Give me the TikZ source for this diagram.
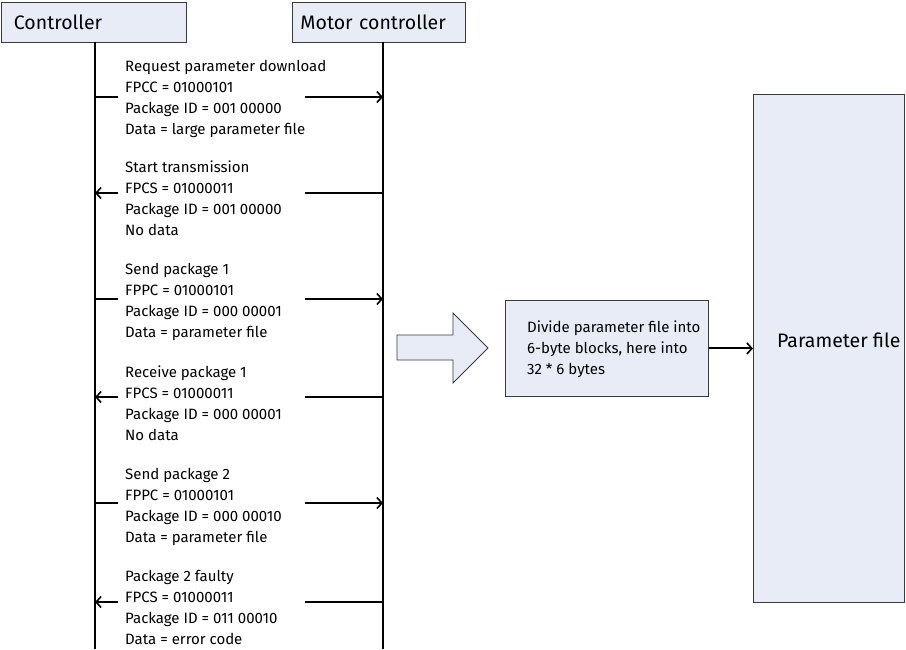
\documentclass[tikz,border=0pt]{standalone}
\usepackage{fontspec}
\setmainfont{Fira Sans}
\usetikzlibrary{arrows.meta}
\definecolor{boxfill}{HTML}{E8ECF7}
\definecolor{boxline}{HTML}{3A3A3A}
\begin{document}
\begin{tikzpicture}[x=1pt,y=-1pt,
  box/.style={draw=boxline, fill=boxfill, line width=0.9pt},
  msgtext/.style={font=\fontsize{15}{21}\selectfont, align=left, anchor=north west, inner sep=0pt},
  bigtext/.style={font=\fontsize{19.5}{23}\selectfont},
  life/.style={line width=2pt},
  sig/.style={line width=2pt},
  sigtip/.style={sig, -{Straight Barb[length=5pt,width=11pt,line width=1.6pt]}},
]
\useasboundingbox (0,0) rectangle (906,649);

% headers
\node[box, bigtext, anchor=north west, minimum height=40pt, text width=159pt, inner xsep=13pt, align=left] (ctrl) at (0.5,1.5) {Controller};
\node[box, bigtext, anchor=north west, minimum height=40pt, text width=157pt, inner xsep=8pt, align=left] (motor) at (292,1.5) {Motor controller};

% lifelines
\coordinate (ctop) at (95,41.5);
\coordinate (cbot) at (95,649);
\coordinate (mtop) at (383,41.5);
\coordinate (mbot) at (383,649);
\draw[life] (ctop) -- (cbot);
\draw[life] (mtop) -- (mbot);

% message anchor coordinates
\foreach \i/\y in {1/97,2/193,3/299,4/397,5/503,6/602} {
  \coordinate (cL\i) at (95,\y);
  \coordinate (mL\i) at (383,\y);
  \coordinate (gl\i) at (118,\y);
  \coordinate (gr\i) at (305,\y);
}

% message texts
\node[msgtext] (t1) at (125,60) {Request parameter download\\FPCC = 01000101\\Package ID = 001 00000\\Data = large parameter file};
\node[msgtext] (t2) at (125,161) {Start transmission\\FPCS = 01000011\\Package ID = 001 00000\\No data};
\node[msgtext] (t3) at (125,263) {Send package 1\\FPPC = 01000101\\Package ID = 000 00001\\Data = parameter file};
\node[msgtext] (t4) at (125,366) {Receive package 1\\FPCS = 01000011\\Package ID = 000 00001\\No data};
\node[msgtext] (t5) at (125,468) {Send package 2\\FPPC = 01000101\\Package ID = 000 00010\\Data = parameter file};
\node[msgtext] (t6) at (125,570) {Package 2 faulty\\FPCS = 01000011\\Package ID = 011 00010\\Data = error code};

% messages
\draw[sig] (cL1) -- (gl1); \draw[sigtip] (gr1) -- (mL1);
\draw[sig] (mL2) -- (gr2); \draw[sigtip] (gl2) -- (cL2);
\draw[sig] (cL3) -- (gl3); \draw[sigtip] (gr3) -- (mL3);
\draw[sig] (mL4) -- (gr4); \draw[sigtip] (gl4) -- (cL4);
\draw[sig] (cL5) -- (gl5); \draw[sigtip] (gr5) -- (mL5);
\draw[sig] (mL6) -- (gr6); \draw[sigtip] (gl6) -- (cL6);

% big block arrow
\draw[box] (397,335) -- (453,335) -- (453,313) -- (488,348) -- (453,383) -- (453,360) -- (397,360) -- cycle;

% divide box
\node[box, anchor=north west, minimum width=203pt, minimum height=96pt, inner sep=0pt] (divide) at (505,300) {};
\node[msgtext, anchor=west] (dividetext) at (527,349) {Divide parameter file into\\6-byte blocks, here into\\32 * 6 bytes};

% parameter file box
\node[box, anchor=north west, minimum width=151pt, minimum height=508pt, inner sep=0pt] (pfile) at (753,94) {};
\node[bigtext, anchor=west, inner sep=0pt] (pfiletext) at (777,340) {Parameter file};

\draw[sigtip] (divide.east) -- (pfile.west);
\end{tikzpicture}
\end{document}
